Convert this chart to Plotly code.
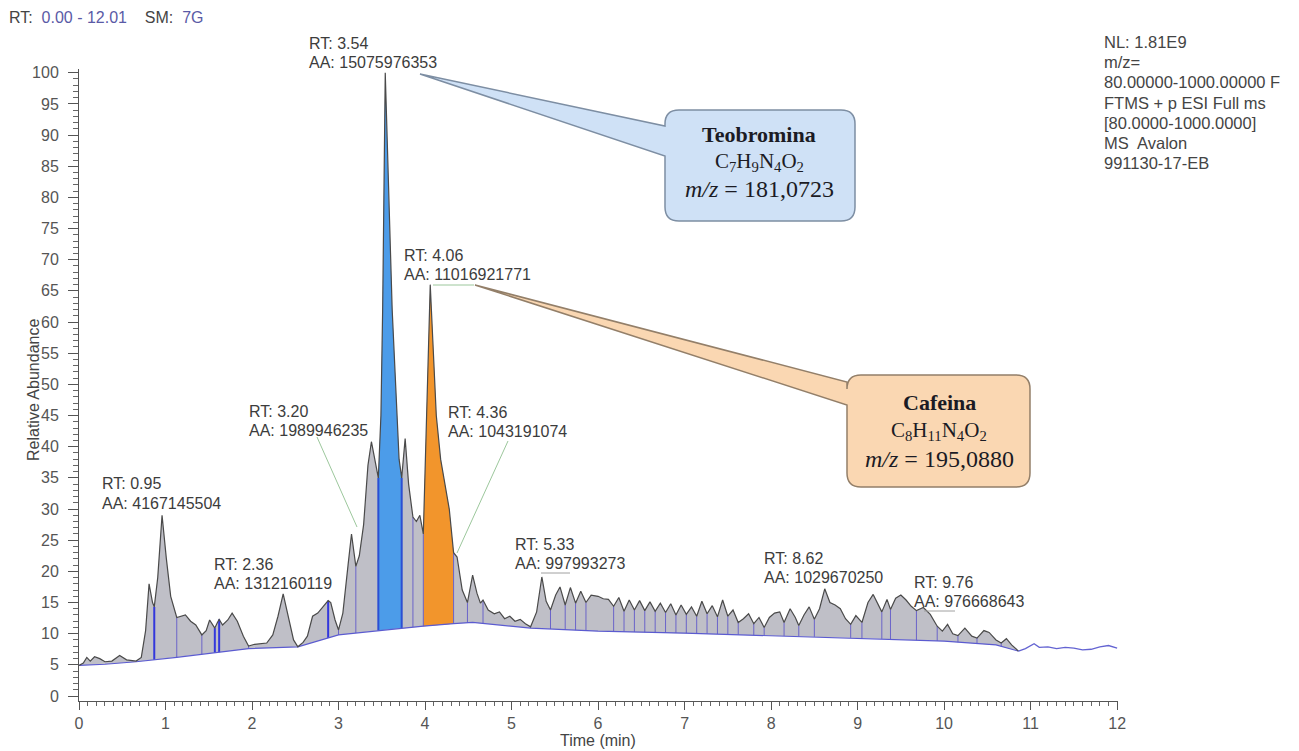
import numpy as np
import plotly.graph_objects as go

# ---- chromatogram trace (retention time in min, relative abundance in %) ----
TIME = [0.00, 0.05, 0.09, 0.13, 0.18, 0.24, 0.30, 0.38, 0.47, 0.55, 0.66, 0.72, 0.77, 0.81, 0.85,
        0.87, 0.91, 0.96, 1.01, 1.06, 1.13, 1.18, 1.23, 1.29, 1.35, 1.42, 1.47, 1.51, 1.55, 1.57,
        1.60, 1.62, 1.66, 1.72, 1.77, 1.83, 1.90, 1.96, 2.03, 2.10, 2.17, 2.24, 2.30, 2.36, 2.42,
        2.48, 2.53, 2.59, 2.64, 2.70, 2.76, 2.81, 2.85, 2.88, 2.91, 2.96, 3.00, 3.05, 3.11, 3.15,
        3.20, 3.24, 3.29, 3.34, 3.38, 3.42, 3.46, 3.49, 3.51, 3.54, 3.58, 3.62, 3.66, 3.70, 3.73,
        3.77, 3.81, 3.86, 3.90, 3.94, 3.98, 4.01, 4.04, 4.06, 4.09, 4.13, 4.18, 4.23, 4.28, 4.33,
        4.37, 4.43, 4.49, 4.55, 4.60, 4.64, 4.67, 4.73, 4.80, 4.86, 4.92, 4.98, 5.04, 5.10, 5.16,
        5.22, 5.29, 5.35, 5.40, 5.45, 5.51, 5.56, 5.62, 5.68, 5.74, 5.80, 5.86, 5.92, 6.00, 6.06,
        6.12, 6.18, 6.24, 6.30, 6.36, 6.42, 6.48, 6.54, 6.60, 6.66, 6.72, 6.78, 6.84, 6.90, 6.96,
        7.02, 7.08, 7.14, 7.20, 7.26, 7.32, 7.38, 7.44, 7.50, 7.56, 7.62, 7.68, 7.74, 7.80, 7.86,
        7.92, 7.98, 8.04, 8.10, 8.15, 8.22, 8.28, 8.32, 8.38, 8.44, 8.50, 8.56, 8.62, 8.68, 8.74,
        8.80, 8.86, 8.92, 8.98, 9.05, 9.12, 9.18, 9.24, 9.28, 9.34, 9.38, 9.44, 9.50, 9.56, 9.62,
        9.68, 9.76, 9.84, 9.92, 9.98, 10.04, 10.10, 10.16, 10.24, 10.32, 10.38, 10.46, 10.52, 10.60, 10.66,
        10.72, 10.78, 10.86, 10.94, 11.04, 11.10, 11.20, 11.30, 11.40, 11.50, 11.60, 11.70, 11.80, 11.90, 12.00]
ABUND = [4.9, 5.3, 6.2, 5.6, 6.3, 6.0, 5.5, 5.6, 6.5, 5.8, 5.6, 6.2, 10.5, 18.0, 15.0,
         14.3, 19.0, 29.0, 22.0, 16.0, 12.6, 12.8, 13.0, 12.0, 11.4, 9.8, 10.5, 12.2, 11.2, 10.9,
         11.8, 12.3, 11.4, 12.2, 13.3, 12.0, 9.6, 8.0, 8.3, 8.4, 8.5, 9.8, 12.8, 16.4, 12.5,
         9.0, 7.9, 8.6, 9.6, 12.8, 13.3, 14.2, 14.8, 15.3, 15.0, 12.2, 10.6, 13.3, 21.0, 26.0,
         20.8, 22.5, 27.5, 37.0, 40.8, 38.0, 35.0, 45.0, 62.0, 100.0, 80.0, 62.0, 50.0, 38.0, 35.0,
         41.3, 34.0, 28.7, 28.0, 29.0, 26.0, 40.0, 58.0, 66.0, 57.0, 45.0, 38.0, 34.0, 30.0, 23.0,
         22.3, 17.0, 15.0, 19.4, 16.5, 14.9, 15.4, 13.8, 13.2, 13.5, 12.4, 12.8, 12.0, 12.3, 11.6,
         11.1, 13.5, 19.1, 15.2, 13.8, 16.2, 17.5, 14.6, 17.4, 14.9, 16.8, 15.0, 16.2, 16.0, 15.6,
         15.5, 14.4, 15.8, 13.6, 15.4, 13.8, 15.3, 13.7, 15.1, 13.6, 14.9, 13.4, 14.8, 13.0, 14.6,
         13.1, 14.3, 12.8, 15.2, 13.2, 14.5, 12.7, 15.4, 12.8, 13.8, 11.8, 12.4, 13.2, 11.6, 12.6,
         11.0, 12.6, 13.3, 13.5, 11.8, 14.0, 12.6, 11.3, 13.0, 14.3, 12.3, 14.0, 17.2, 15.0, 14.6,
         14.0, 12.4, 11.5, 12.9, 11.8, 15.0, 16.3, 14.6, 13.5, 15.5, 13.9, 15.7, 16.2, 15.4, 14.4,
         13.7, 14.2, 13.1, 11.2, 10.4, 11.5, 10.0, 9.7, 10.9, 9.6, 9.3, 10.5, 10.2, 9.0, 8.5,
         9.2, 8.2, 7.2, 7.6, 8.4, 7.8, 7.9, 7.6, 7.8, 7.7, 7.4, 7.5, 7.9, 8.1, 7.7]

# ---- integration baseline ----
BASE_T = [0.00, 0.30, 0.66, 1.13, 1.96, 2.53, 3.00, 3.46, 3.73, 3.98, 4.33, 4.55, 5.22, 6.00,
          7.00, 8.00, 9.00, 10.00, 10.60, 10.86]
BASE_V = [4.9, 5.1, 5.5, 6.2, 7.6, 7.9, 9.8, 10.5, 10.9, 11.2, 11.6, 11.8, 10.9, 10.4,
          10.1, 9.7, 9.3, 8.8, 8.2, 7.2]

# ---- peak boundaries (min) ----
SEPARATORS = [1.13, 1.42, 1.96, 3.00, 3.20, 3.86, 3.98, 4.33, 4.49, 4.67, 5.22, 5.45, 5.62,
              5.74, 5.86, 6.18, 6.30, 6.42, 6.54, 6.66, 6.78, 6.90, 7.02, 7.14, 7.26, 7.38,
              7.50, 7.62, 7.80, 7.92, 8.15, 8.32, 8.50, 8.92, 9.05, 9.28, 9.38, 9.68, 9.92,
              10.16, 10.38, 10.66]
STRONG_SEPARATORS = [0.87, 1.57, 1.62, 2.88]
TEO_WINDOW = (3.46, 3.73)
CAF_WINDOW = (3.98, 4.33)

# ---- peak labels ----
LABEL_RT = ["0.95", "2.36", "3.20", "3.54", "4.06", "4.36", "5.33", "8.62", "9.76"]
LABEL_AA = ["4167145504", "1312160119", "1989946235", "15075976353", "11016921771",
            "1043191074", "997993273", "1029670250", "976668643"]

INFO_LINES = ["NL: 1.81E9", "m/z=", "80.00000-1000.00000 F", "FTMS + p ESI Full ms",
              "[80.0000-1000.0000]", "MS  Avalon", "991130-17-EB"]

# ---- page geometry (pixels) ----
W, H = 1299, 751
ML, MR, MT, MB = 79, 181, 69, 50
PW, PH = W - ML - MR, H - MT - MB
SANS = "Liberation Sans, Arial, sans-serif"
SERIF = "Liberation Serif, Times New Roman, serif"


def pxx(xp):
    return (xp - ML) / PW


def pxy(yp):
    return 1 - (yp - MT) / PH


def P(xp, yp):
    return f"{pxx(xp):.5f},{pxy(yp):.5f}"


t = np.array(TIME)
a = np.array(ABUND)
bt = np.array(BASE_T)
bv = np.array(BASE_V)

fig = go.Figure()

# grey integrated area between trace and baseline
m = t <= bt[-1]
fig.add_trace(go.Scatter(
    x=np.concatenate([t[m], bt[::-1]]), y=np.concatenate([a[m], bv[::-1]]),
    fill="toself", fillcolor="#bfbfc7", line=dict(width=0), mode="lines",
    hoverinfo="skip", showlegend=False))


def region(lo, hi, color):
    sel = (t >= lo) & (t <= hi)
    bsel = (bt >= lo) & (bt <= hi)
    fig.add_trace(go.Scatter(
        x=np.concatenate([t[sel], bt[bsel][::-1]]),
        y=np.concatenate([a[sel], bv[bsel][::-1]]),
        fill="toself", fillcolor=color, line=dict(width=0), mode="lines",
        hoverinfo="skip", showlegend=False))


region(*TEO_WINDOW, "#4c9ce9")
region(*CAF_WINDOW, "#f2952c")


def seps(times, color, width):
    xs, ys = [], []
    for s in times:
        xs += [s, s, None]
        ys += [float(np.interp(s, bt, bv)), float(np.interp(s, t, a)), None]
    fig.add_trace(go.Scatter(x=xs, y=ys, mode="lines", line=dict(color=color, width=width),
                             hoverinfo="skip", showlegend=False))


seps(SEPARATORS, "#6b64c9", 1)
seps(STRONG_SEPARATORS, "#3337dc", 2)
seps(list(TEO_WINDOW), "#2b4fd4", 2)

# baseline
fig.add_trace(go.Scatter(x=bt, y=bv, mode="lines", line=dict(color="#5b5bd0", width=1.2),
                         hoverinfo="skip", showlegend=False))
# trace
fig.add_trace(go.Scatter(x=t[m], y=a[m], mode="lines", line=dict(color="#4a4a4a", width=1.2),
                         hoverinfo="skip", showlegend=False))
tail = t >= bt[-1]
fig.add_trace(go.Scatter(x=t[tail], y=a[tail], mode="lines", line=dict(color="#6464d2", width=1.3),
                         hoverinfo="skip", showlegend=False))

annotations = []
shapes = []


def text(xp, yp, s, size=16, color="#3c3c3c", family=SANS, anchor="left", **kw):
    annotations.append(dict(x=pxx(xp), y=pxy(yp), xref="paper", yref="paper", text=s,
                            showarrow=False, xanchor=anchor, yanchor="middle",
                            font=dict(size=size, color=color, family=family), **kw))


# peak labels: (left x, y of RT line) in pixels
LABEL_POS = [(100, 484), (212, 564), (247, 411), (307, 43), (402, 255), (446, 412),
             (513, 544), (762, 558), (912, 582)]
for (xp, yp), rt, aa in zip(LABEL_POS, LABEL_RT, LABEL_AA):
    text(xp, yp, f"RT: {rt}")
    text(xp, yp + 19.5, f"AA: {aa}")


# leader lines
def seg(x0, y0, x1, y1, color="#9cc79c", width=1):
    shapes.append(dict(type="line", xref="paper", yref="paper", x0=pxx(x0), y0=pxy(y0),
                       x1=pxx(x1), y1=pxy(y1), line=dict(color=color, width=width)))


seg(317, 437, 357, 527)
seg(508, 441, 457, 553)
seg(433, 285, 474, 285)
seg(541, 573, 570, 573, color="#a0a0a0")
seg(924, 611, 955, 611, color="#a0a0a0")


def callout(x0, y0, x1, y1, n0, n1, tx, ty, fill, edge, r=14):
    path = (f"M {P(x0 + r, y0)} L {P(x1 - r, y0)} Q {P(x1, y0)} {P(x1, y0 + r)} "
            f"L {P(x1, y1 - r)} Q {P(x1, y1)} {P(x1 - r, y1)} L {P(x0 + r, y1)} "
            f"Q {P(x0, y1)} {P(x0, y1 - r)} L {P(x0, n1)} L {P(tx, ty)} L {P(x0, n0)} "
            f"L {P(x0, y0 + r)} Q {P(x0, y0)} {P(x0 + r, y0)} Z")
    shapes.append(dict(type="path", xref="paper", yref="paper", path=path,
                       fillcolor=fill, line=dict(color=edge, width=1.5)))


callout(665, 110, 855, 221, 126, 156, 420, 74, "#cfe1f6", "#7d8ea3")
callout(847, 375, 1030, 487, 382, 405, 475, 285, "#fad7b2", "#937f69")

for cx, ys, name, formula, mz in [
        (759, (134, 162, 189), "Teobromina",
         "C<sub>7</sub>H<sub>9</sub>N<sub>4</sub>O<sub>2</sub>", "181,0723"),
        (939, (402, 431, 459), "Cafeina",
         "C<sub>8</sub>H<sub>11</sub>N<sub>4</sub>O<sub>2</sub>", "195,0880")]:
    text(cx, ys[0], f"<b>{name}</b>", size=22, color="#1b1b24", family=SERIF, anchor="center")
    text(cx, ys[1], formula, size=21, color="#1b1b24", family=SERIF, anchor="center")
    text(cx, ys[2], f"<i>m/z</i> = {mz}", size=24, color="#1b1b24", family=SERIF, anchor="center")

# header and acquisition info
text(7, 17, "RT:  <span style='color:#5a5aa6'>0.00 - 12.01</span>    SM:  "
     "<span style='color:#5a5aa6'>7G</span>", size=16, color="#444")
for i, line in enumerate(INFO_LINES):
    text(1102, 42 + 20.2 * i, line, size=16.5, color="#444")

# axis titles
text(598, 740, "Time (min)", size=16, color="#444", anchor="center")
annotations.append(dict(x=pxx(33), y=pxy(390), xref="paper", yref="paper",
                        text="Relative Abundance", showarrow=False, textangle=-90,
                        xanchor="center", yanchor="middle",
                        font=dict(size=16, color="#444", family=SANS)))

fig.update_layout(
    width=W, height=H, margin=dict(l=ML, r=MR, t=MT, b=MB),
    paper_bgcolor="white", plot_bgcolor="white",
    font=dict(family=SANS, color="#444"),
    annotations=annotations, shapes=shapes, showlegend=False,
    xaxis=dict(range=[0, 12.01], tick0=0, dtick=1, ticks="outside", ticklen=8,
               tickcolor="#555", showline=True, linecolor="#555", showgrid=False,
               zeroline=False, tickfont=dict(size=16, color="#555"),
               minor=dict(dtick=0.1, ticks="outside", ticklen=4, tickcolor="#666", showgrid=False)),
    yaxis=dict(range=[-0.8, 100.6], tick0=0, dtick=5, ticks="outside", ticklen=10,
               tickcolor="#555", showline=True, linecolor="#555", showgrid=False,
               zeroline=False, tickfont=dict(size=16, color="#555"), ticklabelstandoff=6,
               minor=dict(dtick=1, ticks="outside", ticklen=5, tickcolor="#666", showgrid=False)),
)

fig.write_html("out.html")
